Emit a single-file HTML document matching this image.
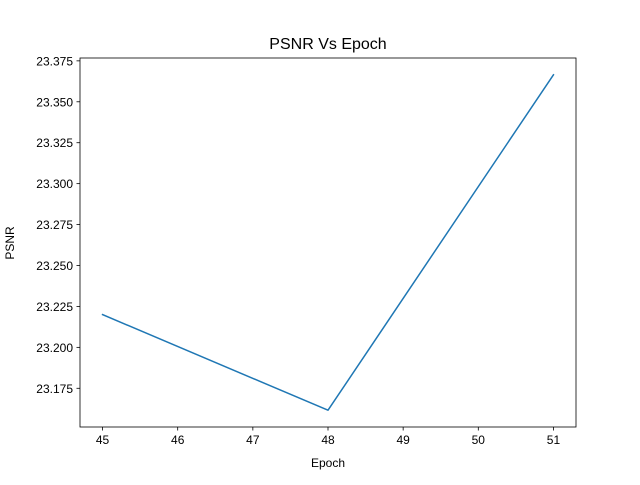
<!DOCTYPE html>
<html><head><meta charset="utf-8"><style>
body{margin:0;background:#fff;}
svg text{font-family:"Liberation Sans","DejaVu Sans",sans-serif;fill:#000;}
</style></head><body>
<svg id="chart" width="640" height="480" xmlns="http://www.w3.org/2000/svg"></svg>
<script>
const epochs = [45, 48, 51];
const psnr = [23.220, 23.1616, 23.3665];
const xTicks = [45, 46, 47, 48, 49, 50, 51];
const yTicks = [23.175, 23.200, 23.225, 23.250, 23.275, 23.300, 23.325, 23.350, 23.375];

const svg = document.getElementById('chart');
const NS = 'http://www.w3.org/2000/svg';
const L = 80, R = 576, T = 58, B = 427;
const xmin0 = Math.min(...epochs), xmax0 = Math.max(...epochs);
const ymin0 = Math.min(...psnr), ymax0 = Math.max(...psnr);
const xm = (xmax0 - xmin0) * 0.05, ym = (ymax0 - ymin0) * 0.05;
const xmin = xmin0 - xm, xmax = xmax0 + xm, ymin = ymin0 - ym, ymax = ymax0 + ym;
function xs(v){ return L + (v - xmin) / (xmax - xmin) * (R - L); }
function ys(v){ return B - (v - ymin) / (ymax - ymin) * (B - T); }
function el(tag, attrs, text){
  const e = document.createElementNS(NS, tag);
  for (const k in attrs) e.setAttribute(k, attrs[k]);
  if (text !== undefined) e.textContent = text;
  svg.appendChild(e);
  return e;
}
let e;
e = el('text', {x: 328, y: 49, 'font-size': 16, 'text-anchor': 'middle'}, 'PSNR Vs Epoch');



xTicks.forEach(t => {
  const x = xs(t);
  let l = el('line', {x1: x, x2: x, y1: B, y2: B + 3.5, stroke: '#000', 'stroke-width': 0.8});
  
  
  let tx = el('text', {x: x, y: B + 17, 'font-size': 12, 'text-anchor': 'middle'}, String(t));
  
  
});
yTicks.forEach(t => {
  const y = ys(t);
  let l = el('line', {x1: L - 3.5, x2: L, y1: y, y2: y, stroke: '#000', 'stroke-width': 0.8});
  
  
  let tx = el('text', {x: L - 7, y: y + 4.5, 'font-size': 12, 'text-anchor': 'end'}, t.toFixed(3));
  
  
});

const pts = epochs.map((v, i) => xs(v) + ',' + ys(psnr[i])).join(' ');
e = el('polyline', {points: pts, fill: 'none', stroke: '#1f77b4', 'stroke-width': 1.5, 'stroke-linejoin': 'round', 'stroke-linecap': 'square'});



e = el('rect', {x: L, y: T, width: R - L, height: B - T, fill: 'none', stroke: '#000', 'stroke-width': 0.8});



e = el('text', {x: 328, y: 467, 'font-size': 12, 'text-anchor': 'middle'}, 'Epoch');


e = el('text', {x: 0, y: 0, 'font-size': 12, 'text-anchor': 'middle', transform: 'translate(14,243) rotate(-90)'}, 'PSNR');


</script>
</body></html>
